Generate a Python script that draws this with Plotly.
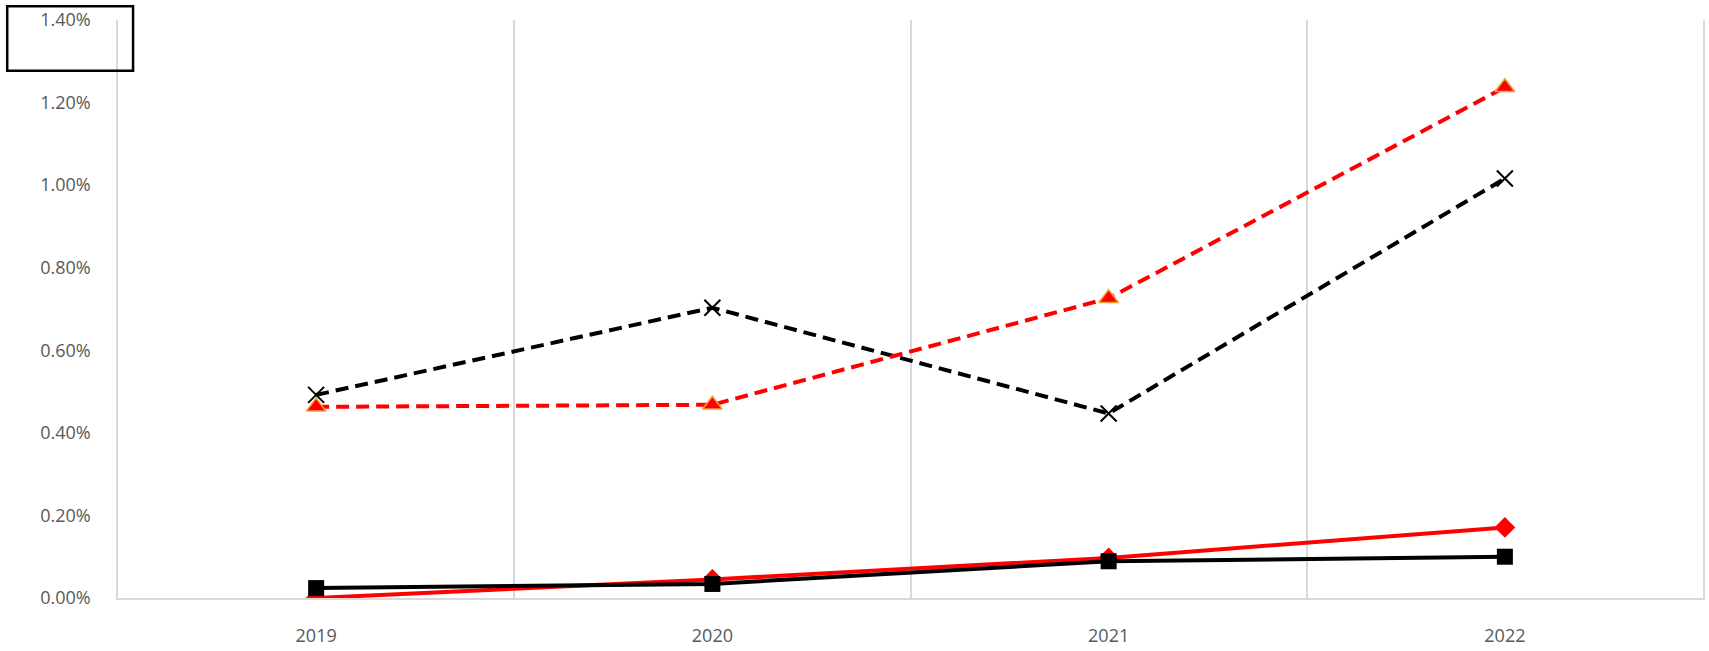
import plotly.graph_objects as go

years = ["2019", "2020", "2021", "2022"]
tri_red_dashed = [0.463, 0.468, 0.726, 1.237]
x_black_dashed = [0.492, 0.703, 0.447, 1.016]
diamond_red = [0.0, 0.045, 0.097, 0.171]
square_black = [0.024, 0.034, 0.089, 0.100]
y_ticks = [0.0, 0.2, 0.4, 0.6, 0.8, 1.0, 1.2, 1.4]
y_tick_labels = ["0.00%", "0.20%", "0.40%", "0.60%", "0.80%", "1.00%", "1.20%", "1.40%"]

fig = go.Figure()
fig.add_trace(go.Scatter(x=years, y=x_black_dashed, mode="lines+markers",
                         line=dict(color="black", width=4, dash="13px,7px"),
                         marker=dict(symbol="x-thin-open", size=16, color="black",
                                     line=dict(color="black", width=2))))
fig.add_trace(go.Scatter(x=years, y=tri_red_dashed, mode="lines+markers",
                         line=dict(color="#ff0000", width=4, dash="13px,7px"),
                         marker=dict(symbol="triangle-up", size=17, color="#ff0000",
                                     line=dict(color="#f0a030", width=1.5))))
fig.add_trace(go.Scatter(x=years, y=diamond_red, mode="lines+markers",
                         line=dict(color="#ff0000", width=4),
                         marker=dict(symbol="diamond", size=16, color="#ff0000")))
fig.add_trace(go.Scatter(x=years, y=square_black, mode="lines+markers",
                         line=dict(color="black", width=4),
                         marker=dict(symbol="square", size=16, color="black")))

fig.update_layout(
    width=1709, height=651,
    margin=dict(l=118, r=4, t=20, b=49),
    paper_bgcolor="white", plot_bgcolor="white",
    showlegend=False,
    font=dict(family="Open Sans", size=18, color="#595959"),
    xaxis=dict(type="category", range=[-0.5, 3.5], tickson="boundaries", showgrid=True,
               gridcolor="#d9d9d9", gridwidth=1.5, showline=True,
               linecolor="#d9d9d9", linewidth=2, ticks="",
               ticklabelstandoff=20, tickfont=dict(size=18)),
    yaxis=dict(range=[0, 1.4], tickvals=y_ticks, ticktext=y_tick_labels,
               showgrid=False, zeroline=False, showline=True, mirror=True,
               linecolor="#d9d9d9", linewidth=1.5, ticks="",
               ticklabelstandoff=22, tickfont=dict(size=18)),
    shapes=[dict(type="rect", xref="paper", yref="paper",
                 x0=-0.0699, x1=0.0095, y0=0.912, y1=1.024,
                 line=dict(color="black", width=2.5), fillcolor="rgba(0,0,0,0)")],
)

fig.write_html("out.html", config={"displayModeBar": False},
               post_script="document.body.style.margin='0';document.body.style.overflow='hidden';")
